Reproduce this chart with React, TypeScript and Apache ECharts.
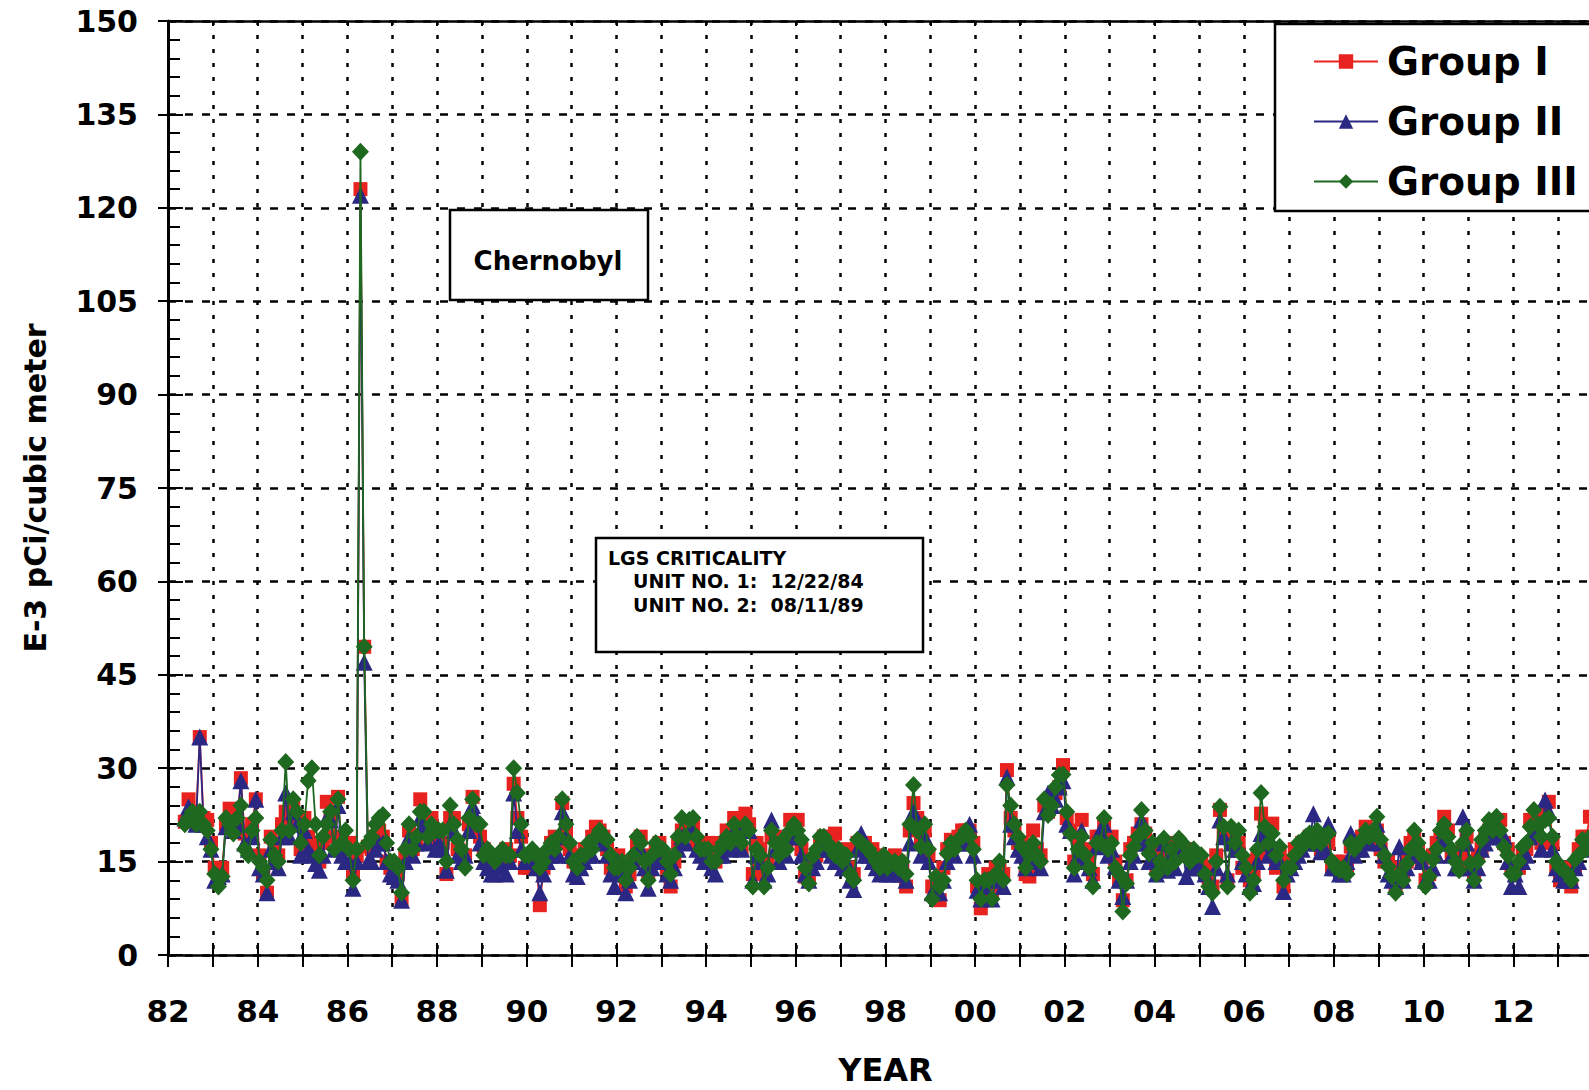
import React, { useEffect, useRef } from "react";
import * as echarts from "echarts";

// Monthly samples, first sample May 1982
const START_YEAR = 1982;
const START_MONTH = 5;

const seriesNames = ["Group I", "Group II", "Group III"];

// Group I (red squares)
const groupI: number[] = [
  21.4, 25, 23, 22, 35, 22, 21.7, 18,
  14, 13, 14, 21, 23.5, 22, 21, 28.4, 19.5, 19, 21, 25,
  16, 13, 10, 19, 17, 16, 21, 23, 21, 24, 22, 17,
  22, 19, 18, 16, 15, 18, 24.6, 22, 19, 25.4, 17, 18,
  18, 13, 16, 123, 49.5, 17.4, 17, 19, 20, 19, 15, 14,
  14, 13, 9, 16, 20, 17, 18, 25, 22, 20, 22, 18,
  19, 18, 13, 22, 22, 17, 16, 16, 21, 25.4, 20, 19,
  17, 16, 15, 16, 15, 16, 17, 16, 27.5, 22, 19, 14,
  14, 16, 15, 8, 14, 16, 18, 19, 18, 24.4, 20, 17,
  15, 14, 16, 17, 17, 19, 20.6, 20, 19, 17, 14, 13,
  16, 14, 11, 13, 15, 18, 19, 16, 13, 15, 17, 18,
  16, 14, 11, 15, 18, 20, 20, 21, 21, 18, 18, 16,
  18, 16, 15, 18, 17, 20, 19, 22, 20, 17, 22.7, 21,
  13, 18, 17, 13, 15, 19, 19, 17, 18, 18, 21.7, 20,
  21.7, 17, 12.6, 12, 15, 16, 18, 19, 19, 18, 19.5, 16,
  16, 17, 14, 13, 18, 17, 18, 16, 17, 16, 15, 15,
  15, 14, 16, 15, 14, 11, 20, 24.4, 22, 18, 20, 16,
  11, 11, 8.8, 14, 17, 18.5, 18, 19, 20, 20, 20, 18,
  11, 7.5, 11, 13, 10, 14, 14, 13, 29.7, 22, 20, 18,
  18, 13, 12.6, 20, 17, 16, 24, 23, 25, 26, 27, 30.5,
  22, 20, 15, 18, 21.7, 17, 15, 13, 19, 19, 21, 18,
  19, 15, 12, 8.8, 12, 17, 18, 19.5, 21, 19.5, 17, 17,
  14, 16, 17, 15, 18, 16, 17, 16, 17, 16, 16, 15,
  15, 14, 12, 11, 16, 23.3, 20, 12, 19, 19, 18, 14,
  15, 12, 13, 16, 22.7, 21, 17, 21.1, 14, 16, 11, 15,
  15, 17, 17, 18, 18, 19, 19, 19, 17, 18, 18, 14,
  15, 14, 15, 14, 17.4, 18, 17, 19, 20.6, 18, 19, 20,
  17, 15, 15, 13, 11, 14, 13, 15, 18, 19, 17, 15,
  12, 13, 16, 18, 19, 22.2, 20, 16.3, 16, 15, 17, 19,
  15, 13, 16, 17, 19, 20, 21, 21, 21.7, 18, 17, 14,
  14, 14, 16, 17, 21.7, 21, 22, 18, 23, 24.6, 18, 14,
  12, 14, 12, 11, 14, 17, 19, 19, 22.2,
];

// Group II (blue triangles)
const groupII: number[] = [
  22, 23.8, 22, 21, 35, 21, 19, 17,
  12, 12.6, 13, 20.6, 21, 20, 21, 28, 18, 17, 19, 25,
  14, 13, 10, 17, 15, 14, 19, 26, 19, 23, 21, 16,
  20, 17, 16, 14.7, 13.6, 16, 22, 21.7, 17, 24, 16, 15,
  15, 10.7, 15, 122, 47, 15, 15, 17, 18, 18, 15, 13,
  12.6, 12, 8.8, 15, 19, 16, 18, 22, 20.6, 18, 20, 17,
  18, 17, 13.6, 21, 20, 16, 15, 16, 20, 24, 22, 18,
  15, 14, 13, 13, 14, 14, 13, 15, 26, 20, 17, 15,
  15, 15, 14, 10, 13, 15, 16, 17, 16, 23, 19, 16,
  13, 12.6, 14, 15, 16, 16, 19, 19, 18, 16, 13, 11,
  15, 13, 10, 12, 15, 17, 17, 14, 10.7, 14, 16, 15,
  15, 13, 12, 14, 17, 19, 18, 20, 20, 17, 16, 15,
  16, 14, 13, 16, 16, 18, 17, 20, 18, 17, 21, 20,
  12, 16, 15, 12, 13, 21.7, 17, 15, 17, 16, 19, 19,
  19, 16, 13, 12, 14, 15, 17, 18, 17, 16, 15, 15,
  14, 15, 12, 10.5, 17, 19.5, 16, 16, 15, 14, 13, 14,
  13, 13, 14, 13, 13, 12, 18, 23, 21, 16, 19, 15,
  10, 11, 10, 12, 15, 17, 16, 18, 18, 19, 21, 16,
  10.4, 9, 11, 12, 9, 12, 13, 11, 28.6, 21, 19, 17,
  16, 14, 15, 17, 15, 14, 23, 26, 24, 25, 27, 28,
  21, 20, 13, 16, 20, 15, 14, 12, 17.4, 20, 21, 16,
  17, 14.2, 12, 9.4, 12, 15, 16, 18, 21.7, 18, 15, 16,
  13, 14, 18, 13.6, 16, 14, 18, 17, 12.6, 14, 15, 14,
  14, 13, 11, 7.8, 14, 21.7, 19, 13, 18, 17, 17, 15,
  13, 11, 11.5, 15, 19.5, 19, 16, 18, 15, 15, 10.2, 13,
  14, 15, 16, 17, 19, 18, 22.7, 18, 16.6, 17, 21, 14,
  14, 13, 13, 15, 19.5, 16, 17, 17, 19.5, 18, 19.5, 21,
  18, 16, 13, 12, 11, 17.4, 12, 14, 16, 18, 17, 15,
  12, 12, 14, 16, 18, 20, 18, 16, 14, 14, 22.2, 18,
  14, 12, 14, 17, 18, 19, 19, 20, 19, 19, 15, 11,
  13, 11, 15, 16, 19, 20, 20, 17, 24.9, 23, 17, 14,
  13, 12, 12, 12, 14, 15, 17, 18, 18,
];

// Group III (green diamonds)
const groupIII: number[] = [
  21, 22, 23, 21, 23, 21, 20, 17,
  13, 11, 12.6, 22, 21, 19.5, 22, 24, 17, 16, 20, 22,
  15, 14, 12, 18.5, 16, 15, 20, 31, 20, 25, 23, 18,
  21, 28, 30, 21, 16, 19, 21, 23, 17, 25, 18, 20,
  17, 12, 17, 129, 49.5, 18, 19, 21, 22, 22.5, 18, 15,
  15, 14, 10, 17, 21, 17, 19, 23, 23, 19, 21, 20,
  20, 20, 15, 24, 21, 18.5, 17, 14, 22, 25, 21, 21,
  16, 17, 16, 15, 16, 17, 16, 16, 30, 26, 21, 16,
  16, 17, 16, 14, 15, 17, 18, 17, 19, 25, 21, 18,
  15, 14, 16, 16, 18, 17, 19, 20, 19, 18.5, 16, 14,
  14, 15, 12, 14, 16, 19, 18, 15, 12, 16, 18, 17,
  17, 15, 13, 16, 19, 22, 19, 21.7, 22, 19, 17, 17,
  17, 15, 15, 17, 18, 19, 18, 21, 19, 18, 21, 20,
  11, 17, 16, 11, 14, 20, 18, 16, 18.5, 17, 20, 21,
  20, 18.5, 14, 11.5, 15.8, 17, 19, 19, 18, 17, 16, 17,
  15, 16, 13, 12, 18.5, 18, 17.4, 17, 16, 15, 14, 16,
  14, 14.7, 15, 14, 15, 13, 21, 27.3, 20, 17.4, 21, 17,
  9, 12.6, 11, 12, 16.3, 18, 17, 18.5, 19, 20, 19, 17,
  12, 9, 12, 12, 9, 13, 15, 12, 27.3, 24, 21, 19,
  17.4, 14, 16, 18, 16, 15, 25, 22.5, 24, 27, 28.9, 29,
  23, 19.5, 14, 17, 19, 16, 14, 11, 18, 18, 22, 17,
  18, 14, 13, 7, 11.5, 16, 17.4, 19, 23.3, 20, 16.3, 18,
  13, 15, 18.7, 14, 17, 15, 18.7, 18, 16, 15, 17, 16,
  16, 13, 11, 10, 15, 23.8, 20.6, 11, 20.6, 18, 20, 16,
  14, 10, 12, 17, 26, 20.6, 18, 19.5, 16, 17.4, 12, 14,
  14, 16, 18, 17.4, 19, 19.5, 18, 20, 18, 19, 19.5, 15,
  14, 13.6, 14, 13, 18, 17, 18, 18.5, 20, 19, 20, 22.2,
  18.5, 16, 14.2, 12.6, 10, 13, 12, 14.7, 17, 20, 18, 16,
  11, 12.6, 15.3, 17, 20, 21, 19, 17, 15, 13.6, 18, 20,
  14.7, 12, 15, 18.5, 20, 21.7, 20, 22.2, 20, 17.4, 16, 13,
  13.1, 15, 17.4, 18, 20.6, 23.3, 21, 19, 21.7, 22, 19, 15,
  14, 13.6, 13, 12, 15.3, 16, 18.5, 17, 19,
];

const X_MIN = 1982;
const X_MAX = 2014;
const Y_MIN = 0;
const Y_MAX = 150;
const Y_STEP = 15;

const annotationChernobyl = "Chernobyl";
const annotationLGS = ["LGS CRITICALITY", "UNIT NO. 1:  12/22/84", "UNIT NO. 2:  08/11/89"];

const RED = "#e8231f";
const BLUE = "#2a2882";
const GREEN = "#1e6820";
const FONT = "'DejaVu Sans', Verdana, sans-serif";

function toPairs(values: number[]) {
  return values.map((v, i) => [START_YEAR + (START_MONTH - 1 + i + 0.5) / 12, v]);
}

export default function App() {
  const ref = useRef<HTMLDivElement>(null);
  useEffect(() => {
    if (!ref.current) return;
    const chart = echarts.init(ref.current, undefined, { renderer: "svg" });
    const axisColor = "#000";
    const option: any = {
      animation: false,
      backgroundColor: "#ffffff",
      grid: { left: 168, right: -14, top: 21, bottom: 135, containLabel: false, outerBoundsMode: "none" },
      legend: {
        orient: "vertical",
        left: 1308,
        top: 37,
        itemWidth: 64,
        itemHeight: 18,
        itemGap: 21,
        selectedMode: false,
        z: 20,
        data: seriesNames,
        textStyle: { fontFamily: FONT, fontWeight: "bold", fontSize: 39, color: "#000", padding: [0, 0, 0, 4] },
      },
      xAxis: [
        {
          type: "value",
          min: X_MIN,
          max: X_MAX,
          interval: 1,
          position: "bottom",
          name: "YEAR",
          nameLocation: "middle",
          nameGap: 99,
          nameTextStyle: { fontFamily: FONT, fontWeight: "bold", fontSize: 32, color: "#000" },
          axisLine: { show: true, onZero: false, lineStyle: { color: axisColor, width: 2.5 } },
          axisTick: { show: true, inside: false, length: 12, lineStyle: { color: axisColor, width: 2 } },
          axisLabel: {
            margin: 40,
            fontFamily: FONT,
            fontWeight: "bold",
            fontSize: 31,
            color: "#000",
            formatter: (v: number) => {
              const y = Math.round(v);
              if (y % 2 !== 0 || y >= X_MAX) return "";
              return String(y % 100).padStart(2, "0");
            },
          },
          splitLine: { show: true, lineStyle: { type: [4, 10], color: "#000", width: 2.5 } },
        },
        {
          type: "value",
          min: X_MIN,
          max: X_MAX,
          interval: 1,
          position: "top",
          axisLine: { show: true, onZero: false, lineStyle: { color: axisColor, width: 2.5 } },
          axisTick: { show: true, inside: true, length: 5, lineStyle: { color: axisColor, width: 2 } },
          axisLabel: { show: false },
          splitLine: { show: false },
        },
        {
          type: "value",
          min: X_MIN,
          max: X_MAX,
          interval: 1,
          position: "bottom",
          axisLine: { show: false, onZero: false },
          axisTick: { show: true, inside: true, length: 12, lineStyle: { color: axisColor, width: 2 } },
          axisLabel: { show: false },
          splitLine: { show: false },
        },
      ],
      yAxis: [
        {
          type: "value",
          min: Y_MIN,
          max: Y_MAX,
          interval: Y_STEP,
          position: "left",
          name: "E-3 pCi/cubic meter",
          nameLocation: "middle",
          nameGap: 118,
          nameRotate: 90,
          nameTextStyle: { fontFamily: FONT, fontWeight: "bold", fontSize: 30, color: "#000" },
          axisLine: { show: true, onZero: false, lineStyle: { color: axisColor, width: 3 } },
          axisTick: { show: true, inside: true, length: 15, lineStyle: { color: axisColor, width: 2 } },
          minorTick: { show: true, splitNumber: 5, length: 12, lineStyle: { color: axisColor, width: 2 } },
          axisLabel: { margin: 30, fontFamily: FONT, fontWeight: "bold", fontSize: 30, color: "#000" },
          splitLine: { show: true, lineStyle: { type: [8, 9], color: "#000", width: 2.5 } },
        },
        {
          type: "value",
          min: Y_MIN,
          max: Y_MAX,
          interval: Y_STEP,
          position: "left",
          axisLine: { show: false, onZero: false },
          axisTick: { show: true, inside: false, length: 10, lineStyle: { color: axisColor, width: 2 } },
          axisLabel: { show: false },
          splitLine: { show: false },
        },
      ],
      graphic: [
        {
          type: "rect",
          z: 10,
          shape: { x: 1275, y: 24, width: 400, height: 187 },
          style: { fill: "#fff", stroke: "#000", lineWidth: 2.5 },
        },
        {
          type: "rect",
          z: 10,
          shape: { x: 450, y: 210, width: 198, height: 90 },
          style: { fill: "#fff", stroke: "#000", lineWidth: 2.5 },
        },
        {
          type: "text",
          z: 11,
          style: {
            text: annotationChernobyl,
            x: 548,
            y: 261,
            textAlign: "center",
            textVerticalAlign: "middle",
            font: `bold 26px ${FONT}`,
            fill: "#000",
          },
        },
        {
          type: "rect",
          z: 10,
          shape: { x: 596, y: 538, width: 327, height: 114 },
          style: { fill: "#fff", stroke: "#000", lineWidth: 2.5 },
        },
        {
          type: "text",
          z: 11,
          style: { text: annotationLGS[0], x: 608, y: 558, textAlign: "left", textVerticalAlign: "middle", font: `bold 19px ${FONT}`, fill: "#000" },
        },
        {
          type: "text",
          z: 11,
          style: { text: annotationLGS[1], x: 633, y: 581, textAlign: "left", textVerticalAlign: "middle", font: `bold 19px ${FONT}`, fill: "#000" },
        },
        {
          type: "text",
          z: 11,
          style: { text: annotationLGS[2], x: 633, y: 605, textAlign: "left", textVerticalAlign: "middle", font: `bold 19px ${FONT}`, fill: "#000" },
        },
      ],
      series: [
        {
          name: seriesNames[0],
          type: "line",
          xAxisIndex: 0,
          yAxisIndex: 0,
          data: toPairs(groupI),
          symbol: "rect",
          symbolSize: 14,
          showSymbol: true,
          itemStyle: { color: RED },
          lineStyle: { color: RED, width: 1.8 },
          z: 2,
        },
        {
          name: seriesNames[1],
          type: "line",
          xAxisIndex: 0,
          yAxisIndex: 0,
          data: toPairs(groupII),
          symbol: "triangle",
          symbolSize: 17,
          showSymbol: true,
          itemStyle: { color: BLUE },
          lineStyle: { color: BLUE, width: 1.8 },
          z: 3,
        },
        {
          name: seriesNames[2],
          type: "line",
          xAxisIndex: 0,
          yAxisIndex: 0,
          data: toPairs(groupIII),
          symbol: "diamond",
          symbolSize: [17, 18],
          showSymbol: true,
          itemStyle: { color: GREEN },
          lineStyle: { color: GREEN, width: 1.8 },
          z: 4,
        },
      ],
    };
    chart.setOption(option);
    return () => chart.dispose();
  }, []);
  return (
    <div
      ref={ref}
      style={{ position: "absolute", left: 0, top: 0, width: 1589, height: 1090, background: "#fff" }}
    />
  );
}
